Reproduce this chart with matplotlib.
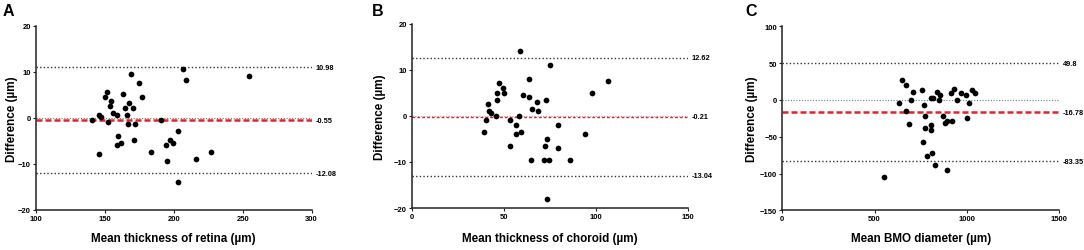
#!/usr/bin/env python3
"""Bland-Altman plots for retina, choroid and BMO diameter (three panels)."""

import matplotlib.pyplot as plt

plt.rcParams["font.family"] = ["Liberation Sans", "DejaVu Sans"]
plt.rcParams["font.weight"] = "bold"

# panel A: retina thickness
retina_mean = [141.1, 145.7, 147.6, 145.9, 150.5, 151.9, 152.7, 153.6, 154.6, 156.0,
               158.9, 158.7, 159.7, 161.6, 163.3, 164.7, 166.4, 167.4, 166.9, 169.1,
               170.3, 171.0, 171.7, 175.1, 177.1, 183.6, 190.6, 194.7, 195.2, 197.3,
               199.3, 203.4, 202.9, 207.0, 209.0, 216.2, 227.1, 254.8]
retina_diff = [-0.43, 0.58, 0.07, -7.9, 4.57, 5.58, -0.94, 2.61, 3.62, 1.09,
               0.58, -5.87, -3.91, -5.43, 5.07, 2.1, 0.58, 3.12, -1.45, 9.57,
               2.1, -4.93, -1.45, 7.61, 4.57, -7.39, -0.43, -5.94, -9.42, -4.93,
               -5.43, -2.97, -13.91, 10.58, 8.12, -8.91, -7.39, 9.06]
retina_limits = [10.98, -0.55, -12.08]

# panel B: choroid thickness
choroid_mean = [39.1, 40.2, 41.5, 42.0, 43.1, 46.0, 46.2, 46.5, 47.3, 49.8,
                50.3, 53.4, 53.6, 56.7, 56.7, 58.9, 58.5, 59.6, 60.5, 63.7,
                63.7, 64.7, 65.5, 67.9, 68.5, 71.9, 72.6, 73.2, 73.4, 73.4,
                74.6, 75.3, 79.3, 79.3, 86.0, 94.0, 97.8, 106.5]
choroid_diff = [-3.48, -0.94, 2.54, 1.09, 0.58, 0.07, 5.07, 3.55, 7.1, 6.09,
                5.07, -0.94, -6.46, -1.96, -3.98, 14.07, 0.07, -3.48, 4.57, 8.04,
                4.06, -9.5, 1.52, 3.04, 1.09, -9.5, -6.46, 3.55, -4.93, -17.97,
                -9.5, 11.09, -1.96, -6.96, -9.5, -3.98, 5.07, 7.54]
choroid_limits = [12.62, -0.21, -13.04]

# panel C: BMO diameter
bmo_mean = [551, 649, 669, 634, 670.6, 707, 699, 688.5, 755.6, 769.9,
            772, 775, 762.7, 786, 804.5, 817, 804.5, 807.8, 811.6, 827.8,
            838.6, 854.9, 847.8, 872.8, 880.4, 894.5, 891, 913, 932.5, 920,
            948.8, 968.8, 994.2, 1001.3, 1013.9, 1026.8, 1043]
bmo_diff = [-104.3, 27.0, 20.2, -4.2, -15.1, 10.7, -0.5, -33.2, 13.5, -6.9,
            -21.5, -38.6, -57.2, -76.6, 2.2, 2.2, -34.1, -40.9, -71.7, -88.5,
            10.7, 6.6, -0.5, -21.9, -31.8, -28.3, -94.8, 9.8, 14.4, -28.3,
            -0.5, 9.8, 7.1, -24.6, -3.8, 13.9, 9.4]
bmo_limits = [49.8, -16.78, -83.35]

W, H = 1084, 251
fig = plt.figure(figsize=(W / 100, H / 100), dpi=100)


def px_axes(left, top, right, bottom):
    """Axes from pixel box."""
    return fig.add_axes([left / W, 1 - bottom / H, (right - left) / W, (bottom - top) / H])


def panel(ax, x, y, limits, xlim, xticks, ylim, yticks, zero_color, red_style):
    ax.scatter(x, y, s=17, color="black", zorder=3, linewidths=0)
    ax.axhline(0, color=zero_color, lw=0.8, ls=(0, (1, 1.5)), zorder=1)
    ax.axhline(limits[0], color="#333333", lw=1.0, ls=(0, (1, 1.6)), zorder=2)
    ax.axhline(limits[2], color="#333333", lw=1.0, ls=(0, (1, 1.6)), zorder=2)
    lw, dashes = red_style
    ax.axhline(limits[1], color="#e8202a", lw=lw, ls=(0, dashes), zorder=2)
    for v in limits:
        ax.annotate(f"{v:g}", xy=(1, v), xycoords=("axes fraction", "data"),
                    xytext=(3, 0), textcoords="offset points",
                    ha="left", va="center", fontsize=5.3, fontweight="bold")
    ax.set_xlim(*xlim)
    ax.set_ylim(*ylim)
    ax.set_xticks(xticks)
    ax.set_yticks(yticks)
    for side in ["top", "right"]:
        ax.spines[side].set_visible(False)
    for side in ["left", "bottom"]:
        ax.spines[side].set_linewidth(1.1)
        ax.spines[side].set_color("#222222")
    ax.tick_params(length=2, width=0.8, labelsize=5.5, pad=1.5, color="#222222")
    for lab in ax.get_xticklabels() + ax.get_yticklabels():
        lab.set_fontweight("bold")


ax_a = px_axes(35.7, 26.7, 311.7, 210.7)
panel(ax_a, retina_mean, retina_diff, retina_limits, (100, 300), [100, 150, 200, 250, 300],
      (-20, 20), [-20, -10, 0, 10, 20], "#777777", (1.8, (2.4, 1.2)))

ax_b = px_axes(411.7, 25, 687.7, 209)
panel(ax_b, choroid_mean, choroid_diff, choroid_limits, (0, 150), [0, 50, 100, 150],
      (-20, 20), [-20, -10, 0, 10, 20], "#7fb8c8", (1.0, (2.0, 1.5)))

ax_c = px_axes(782.3, 27.3, 1059, 211.3)
panel(ax_c, bmo_mean, bmo_diff, bmo_limits, (0, 1500), [0, 500, 1000, 1500],
      (-150, 100), [-150, -100, -50, 0, 50, 100], "#777777", (1.8, (2.4, 1.2)))

xlabels = ["Mean thickness of retina (µm)", "Mean thickness of choroid (µm)", "Mean BMO diameter (µm)"]
letters = ["A", "B", "C"]
letter_x = [3, 372, 745]
ylabel_x = [12, 380, 752]
for ax, xl, letter, lx, yx in zip([ax_a, ax_b, ax_c], xlabels, letters, letter_x, ylabel_x):
    box = ax.get_position()
    cx = (box.x0 + box.x1) / 2
    cy = (box.y0 + box.y1) / 2
    fig.text(cx, 1 - 239 / H, xl, ha="center", va="center", fontsize=8.4, fontweight="bold")
    fig.text(yx / W, cy, "Difference (µm)", rotation=90, ha="center", va="center",
             fontsize=8.4, fontweight="bold")
    fig.text(lx / W, 1 - 11 / H, letter, ha="left", va="center", fontsize=11.5, fontweight="bold")

fig.savefig("out.png", dpi=100)
